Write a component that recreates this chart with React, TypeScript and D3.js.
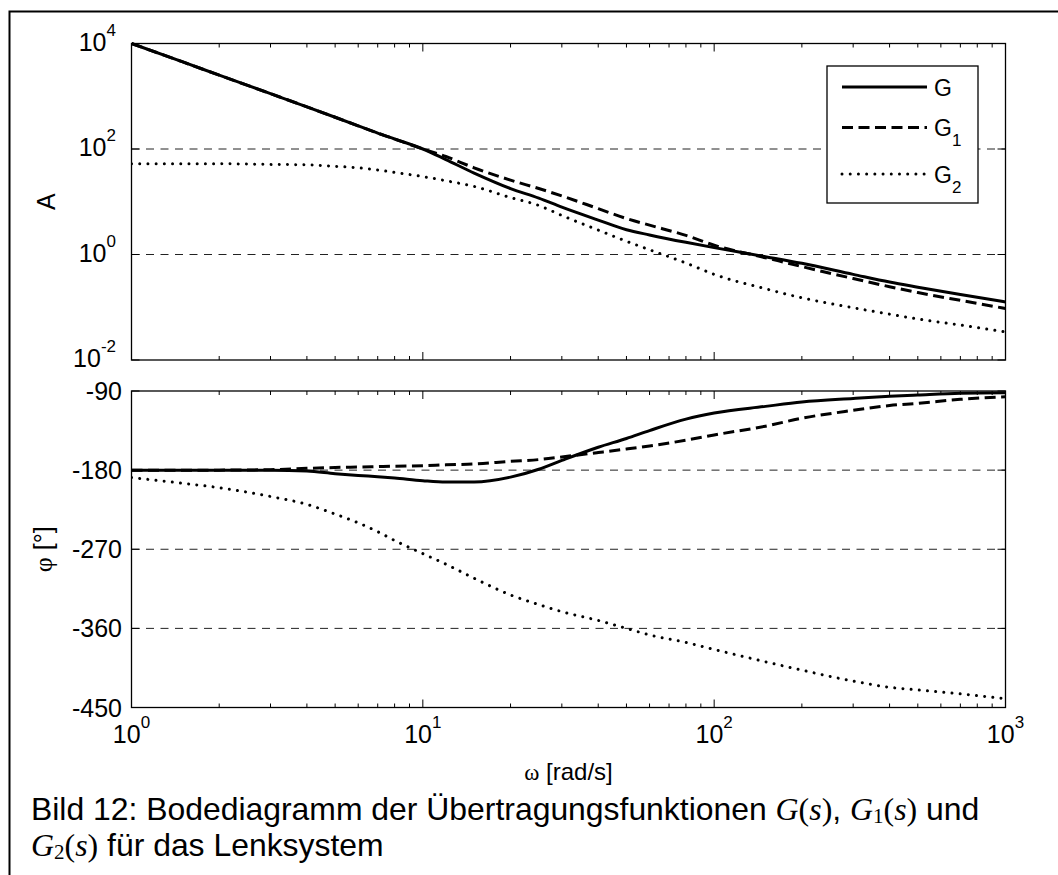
import React from "react";
import * as d3 from "d3";

const omega = [1, 1.5, 2, 3, 4, 5, 6, 7, 8, 10, 12, 15, 20, 25, 30, 40, 50, 60, 80, 100, 150, 200, 300, 400, 500, 700, 1000];

const magG = [10000, 4470, 2510, 1120, 630, 400, 275, 200, 155, 100, 63, 35, 17.8, 11.7, 7.9, 4.5, 2.95, 2.35, 1.7, 1.35, 0.91, 0.68, 0.42, 0.3, 0.24, 0.174, 0.126];
const magG1 = [10000, 4470, 2510, 1120, 630, 400, 275, 200, 155, 100, 72, 44, 25.7, 17.8, 12.9, 7.4, 4.8, 3.6, 2.3, 1.5, 0.87, 0.59, 0.35, 0.245, 0.19, 0.135, 0.095];
const magG2 = [52.5, 52.5, 52.5, 51, 50, 47, 44, 40, 36, 30, 25, 19.5, 12, 8.5, 5.5, 2.9, 1.78, 1.23, 0.69, 0.42, 0.224, 0.151, 0.098, 0.074, 0.06, 0.046, 0.034];

const phG = [-180, -180, -180, -180, -181, -184, -186, -187.5, -189, -192, -193.5, -193.5, -188, -179, -169, -154, -144, -135, -122, -115, -107.5, -102.5, -98.5, -96, -94.5, -92.5, -92];
const phG1 = [-180, -180, -180, -179.5, -178, -177, -176.5, -176, -175.5, -175, -174, -173, -170, -168, -165, -160, -156, -152.5, -146, -140, -130, -121, -112, -106.5, -104, -99.5, -96.5];
const phG2 = [-188.5, -195, -200, -210, -219, -230, -240, -250, -260, -275, -287, -303, -322, -333, -341, -351, -360, -367.5, -376, -384, -398, -407.5, -420, -427, -430, -434.5, -440];

const xTickExps = [0, 1, 2, 3];
const magTickExps = [-2, 0, 2, 4];
const magGridExps = [0, 2];
const phTicks = [-90, -180, -270, -360, -450];
const phGrid = [-180, -270, -360];

const seriesNames = ["G", "G1", "G2"];

const SANS = "'Liberation Sans', Arial, Helvetica, sans-serif";
const SERIF = "'Liberation Serif', 'Times New Roman', serif";

const L = 131.5, R = 1005.5;
const T1 = 43.5, B1 = 360;
const T2 = 391, B2 = 707.5;

const styles = [
  { dash: undefined as string | undefined, cap: "butt" },
  { dash: "11 5.5", cap: "butt" },
  { dash: "0.01 8.2", cap: "round" },
];

export default function App() {
  const x = d3.scaleLog().domain([1, 1000]).range([L, R]);
  const yM = d3.scaleLog().domain([0.01, 10000]).range([B1, T1]);
  const yP = d3.scaleLinear().domain([-450, -90]).range([B2, T2]);

  const magSeries = [magG, magG1, magG2];
  const phSeries = [phG, phG1, phG2];

  const lineM = d3
    .line<number>()
    .x((_, i) => x(omega[i]))
    .y((d) => yM(d))
    .curve(d3.curveMonotoneX);
  const lineP = d3
    .line<number>()
    .x((_, i) => x(omega[i]))
    .y((d) => yP(d))
    .curve(d3.curveMonotoneX);

  const minor: number[] = [];
  for (let e = 0; e < 3; e++) for (let k = 2; k <= 9; k++) minor.push(k * Math.pow(10, e));

  const xTicksFor = (top: number, bottom: number) => (
    <g stroke="#000" strokeWidth={1}>
      {xTickExps.map((e) => {
        const xx = x(Math.pow(10, e));
        return (
          <g key={"M" + e}>
            <line x1={xx} x2={xx} y1={top} y2={top + 8} />
            <line x1={xx} x2={xx} y1={bottom} y2={bottom - 8} />
          </g>
        );
      })}
      {minor.map((v) => {
        const xx = x(v);
        return (
          <g key={"m" + v}>
            <line x1={xx} x2={xx} y1={top} y2={top + 4} />
            <line x1={xx} x2={xx} y1={bottom} y2={bottom - 4} />
          </g>
        );
      })}
    </g>
  );

  const yTick = (yy: number, key: string) => (
    <g key={key} stroke="#000" strokeWidth={1}>
      <line x1={L} x2={L + 8} y1={yy} y2={yy} />
      <line x1={R} x2={R - 8} y1={yy} y2={yy} />
    </g>
  );

  const grid = (yy: number, key: string) => (
    <line key={key} x1={L} x2={R} y1={yy} y2={yy} stroke="#222" strokeWidth={1} strokeDasharray="8 6.5" />
  );

  return (
    <svg
      width={1058}
      height={875}
      style={{ position: "absolute", left: 0, top: 0, background: "#fff" }}
      fontFamily={SANS}
    >
      <rect x={0} y={0} width={1058} height={875} fill="#fff" />
      {/* outer frame */}
      <rect x={9.5} y={11.5} width={1100} height={900} fill="none" stroke="#000" strokeWidth={2} />

      {/* ---------- magnitude plot ---------- */}
      {magGridExps.map((e) => grid(yM(Math.pow(10, e)), "gm" + e))}
      <g clipPath="url(#c1)">
        {magSeries.map((s, i) => (
          <path
            key={"m" + i}
            d={lineM(s) || ""}
            fill="none"
            stroke="#000"
            strokeWidth={3}
            strokeDasharray={styles[i].dash}
            strokeLinecap={styles[i].cap as any}
            strokeLinejoin="round"
          />
        ))}
      </g>
      <rect x={L} y={T1} width={R - L} height={B1 - T1} fill="none" stroke="#000" strokeWidth={1.3} />
      {xTicksFor(T1, B1)}
      {magTickExps.map((e) => yTick(yM(Math.pow(10, e)), "tm" + e))}
      {magTickExps.map((e) => (
        <text key={"lm" + e} x={116} y={yM(Math.pow(10, e)) + 7} fontSize={25} textAnchor="end">
          10
          <tspan dy={-15} fontSize={17}>
            {e}
          </tspan>
        </text>
      ))}
      <text transform={`translate(55,${(T1 + B1) / 2}) rotate(-90)`} fontSize={25} textAnchor="middle">
        A
      </text>

      {/* legend */}
      <rect x={827} y={66} width={151} height={137} fill="#fff" stroke="#000" strokeWidth={1.3} />
      {seriesNames.map((n, i) => {
        const ly = [87, 127.5, 174][i];
        return (
          <g key={"lg" + i}>
            <line
              x1={842}
              x2={927}
              y1={ly}
              y2={ly}
              stroke="#000"
              strokeWidth={3}
              strokeDasharray={styles[i].dash}
              strokeLinecap={styles[i].cap as any}
            />
            <text x={934} y={ly + 8.5} fontSize={23}>
              G
              {n.length > 1 ? (
                <tspan dy={10} fontSize={17}>
                  {n.slice(1)}
                </tspan>
              ) : null}
            </text>
          </g>
        );
      })}

      {/* ---------- phase plot ---------- */}
      {phGrid.map((p) => grid(yP(p), "gp" + p))}
      <g clipPath="url(#c2)">
        {phSeries.map((s, i) => (
          <path
            key={"p" + i}
            d={lineP(s) || ""}
            fill="none"
            stroke="#000"
            strokeWidth={3}
            strokeDasharray={styles[i].dash}
            strokeLinecap={styles[i].cap as any}
            strokeLinejoin="round"
          />
        ))}
      </g>
      <rect x={L} y={T2} width={R - L} height={B2 - T2} fill="none" stroke="#000" strokeWidth={1.3} />
      {xTicksFor(T2, B2)}
      {phTicks.map((p) => yTick(yP(p), "tp" + p))}
      {phTicks.map((p) => (
        <text key={"lp" + p} x={122} y={yP(p) + 9} fontSize={25} textAnchor="end">
          {p}
        </text>
      ))}
      <text transform={`translate(52,${(T2 + B2) / 2}) rotate(-90)`} fontSize={25} textAnchor="middle">
        <tspan fontFamily={SERIF} fontSize={26}>φ</tspan> [°]
      </text>

      {/* x tick labels */}
      {xTickExps.map((e) => (
        <text key={"lx" + e} x={x(Math.pow(10, e))} y={743} fontSize={25} textAnchor="middle">
          10
          <tspan dy={-15} fontSize={17}>
            {e}
          </tspan>
        </text>
      ))}
      <text x={(L + R) / 2} y={780} fontSize={24} textAnchor="middle">
        <tspan fontFamily={SERIF} fontSize={23}>ω</tspan> [rad/s]
      </text>

      {/* caption */}
      <text x={31} y={820} fontSize={31.9}>
        Bild 12: Bodediagramm der Übertragungsfunktionen{" "}
        <tspan fontFamily={SERIF} fontStyle="italic">G</tspan>
        <tspan fontFamily={SERIF}>(</tspan>
        <tspan fontFamily={SERIF} fontStyle="italic">s</tspan>
        <tspan fontFamily={SERIF}>)</tspan>,{" "}
        <tspan fontFamily={SERIF} fontStyle="italic">G</tspan>
        <tspan fontFamily={SERIF} fontSize={21} dy={3}>1</tspan>
        <tspan fontFamily={SERIF} dy={-3}>(</tspan>
        <tspan fontFamily={SERIF} fontStyle="italic">s</tspan>
        <tspan fontFamily={SERIF}>)</tspan> und
      </text>
      <text x={31} y={856} fontSize={31.9}>
        <tspan fontFamily={SERIF} fontStyle="italic">G</tspan>
        <tspan fontFamily={SERIF} fontSize={21} dy={3}>2</tspan>
        <tspan fontFamily={SERIF} dy={-3}>(</tspan>
        <tspan fontFamily={SERIF} fontStyle="italic">s</tspan>
        <tspan fontFamily={SERIF}>)</tspan> für das Lenksystem
      </text>

      <defs>
        <clipPath id="c1">
          <rect x={L} y={T1 - 2} width={R - L} height={B1 - T1 + 4} />
        </clipPath>
        <clipPath id="c2">
          <rect x={L} y={T2 - 2} width={R - L} height={B2 - T2 + 4} />
        </clipPath>
      </defs>
    </svg>
  );
}
